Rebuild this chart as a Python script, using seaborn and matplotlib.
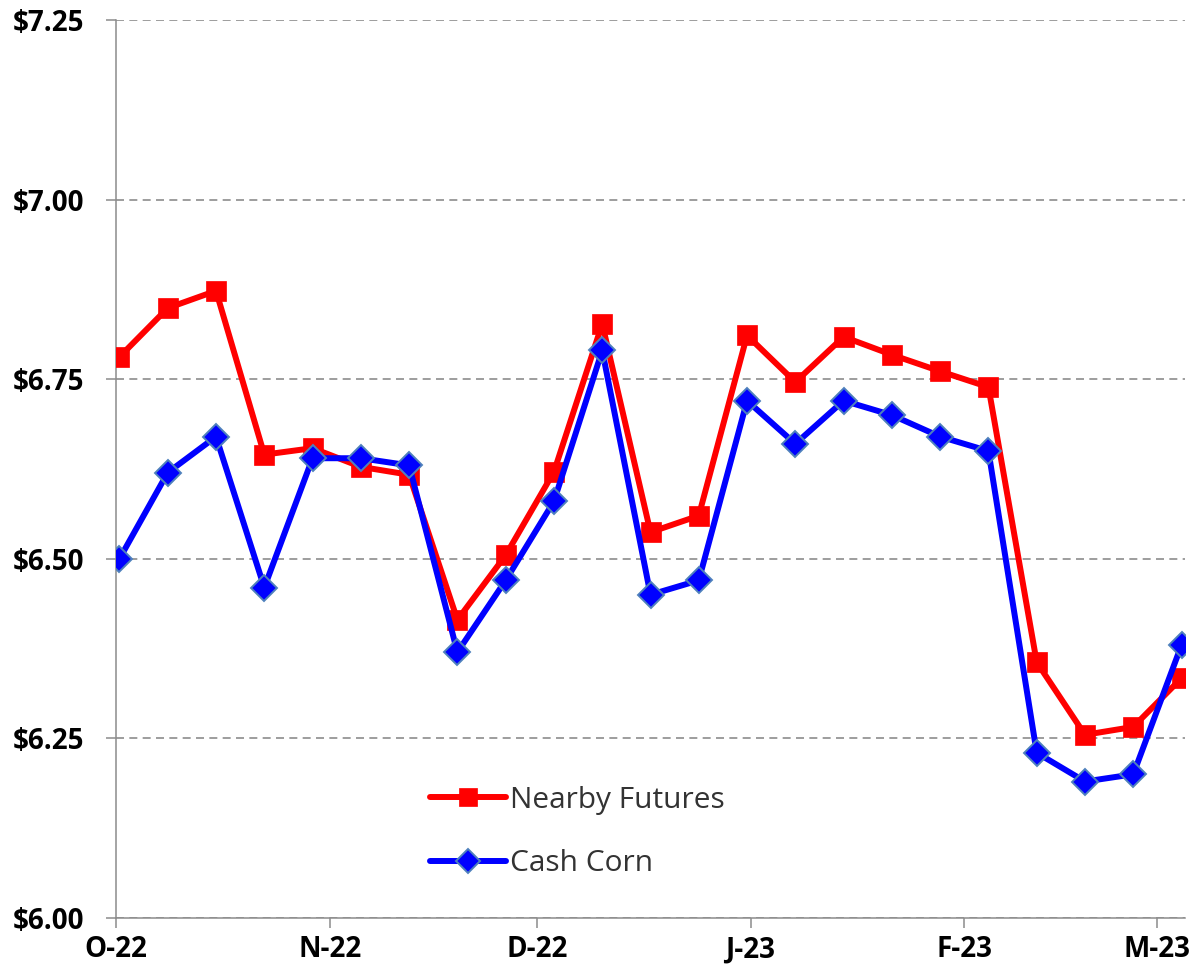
import matplotlib
matplotlib.use("Agg")
import matplotlib.pyplot as plt
import seaborn as sns
import pandas as pd

# ---- data ----
week_dates = ["2022-10-01", "2022-10-08", "2022-10-15", "2022-10-22", "2022-10-29",
              "2022-11-05", "2022-11-12", "2022-11-19", "2022-11-26",
              "2022-12-03", "2022-12-10", "2022-12-17", "2022-12-24", "2022-12-31",
              "2023-01-07", "2023-01-14", "2023-01-21", "2023-01-28",
              "2023-02-04", "2023-02-11", "2023-02-18", "2023-02-25",
              "2023-03-04"]
nearby_futures = [6.781, 6.849, 6.873, 6.645, 6.654, 6.628, 6.617, 6.415, 6.505,
                  6.621, 6.827, 6.537, 6.560, 6.811, 6.746, 6.809, 6.784, 6.761,
                  6.739, 6.356, 6.255, 6.266, 6.334]
cash_corn = [6.50, 6.62, 6.67, 6.46, 6.64, 6.64, 6.63, 6.37, 6.47, 6.58, 6.79,
             6.45, 6.47, 6.72, 6.66, 6.72, 6.70, 6.67, 6.65, 6.23, 6.19, 6.20, 6.38]
series_names = ["Nearby Futures", "Cash Corn"]
y_ticks = [6.00, 6.25, 6.50, 6.75, 7.00, 7.25]
y_tick_labels = ["$6.00", "$6.25", "$6.50", "$6.75", "$7.00", "$7.25"]
x_tick_dates = ["2022-10-01", "2022-11-01", "2022-12-01", "2023-01-01", "2023-02-01", "2023-03-01"]
x_tick_labels = ["O-22", "N-22", "D-22", "J-23", "F-23", "M-23"]

# ---- style ----
sns.set_style("white")
plt.rcParams["font.family"] = ["Open Sans", "DejaVu Sans"]

# points sit in the middle of each day slot (date axis)
dates = pd.to_datetime(week_dates) + pd.Timedelta(hours=12)

fig = plt.figure(figsize=(12.03, 9.77), dpi=100)
ax = fig.add_axes([116 / 1203, 1 - 918 / 977, (1185 - 116) / 1203, (918 - 20) / 977])

sns.lineplot(x=dates, y=nearby_futures, ax=ax, color="#FF0000", linewidth=4.3,
             marker="s", markersize=14, markeredgecolor="#FF0000", markeredgewidth=0.5,
             label=series_names[0], zorder=3)
sns.lineplot(x=dates, y=cash_corn, ax=ax, color="#0000FF", linewidth=4.3,
             marker="D", markersize=13.5, markeredgecolor="#4F81BD", markeredgewidth=1.4,
             label=series_names[1], zorder=4)

ax.set_ylim(6.0, 7.25)
ax.set_xlim(pd.Timestamp("2022-10-01"), pd.Timestamp("2023-03-05"))
ax.set_yticks(y_ticks)
ax.set_yticklabels(y_tick_labels)
ax.set_xticks(pd.to_datetime(x_tick_dates))
ax.set_xticklabels(x_tick_labels)
ax.set_xlabel("")
ax.set_ylabel("")

for lbl in ax.get_xticklabels() + ax.get_yticklabels():
    lbl.set_fontweight("bold")
    lbl.set_fontsize(20)
    lbl.set_color("black")

ax.tick_params(axis="y", direction="out", length=7.5, width=1.1, color="#8C8C8C", pad=15, left=True)
ax.tick_params(axis="x", direction="out", length=7.5, width=1.1, color="#8C8C8C", pad=5, bottom=True)

ax.yaxis.grid(True, color="#8C8C8C", linewidth=1.2, linestyle=(0, (4.8, 3.2)))
ax.xaxis.grid(False)
ax.set_axisbelow(True)

for s in ["top", "right"]:
    ax.spines[s].set_visible(False)
for s in ["left", "bottom"]:
    ax.spines[s].set_color("#8C8C8C")
    ax.spines[s].set_linewidth(1.1)

leg = ax.legend(loc="center left", bbox_to_anchor=(0.294, 0.096), frameon=False,
                borderpad=0, borderaxespad=0, handlelength=2.55, handletextpad=0.12,
                labelspacing=1.15, markerscale=0.9, fontsize=21.5)
for t in leg.get_texts():
    t.set_color("#333333")

fig.savefig("out.png", dpi=100)
